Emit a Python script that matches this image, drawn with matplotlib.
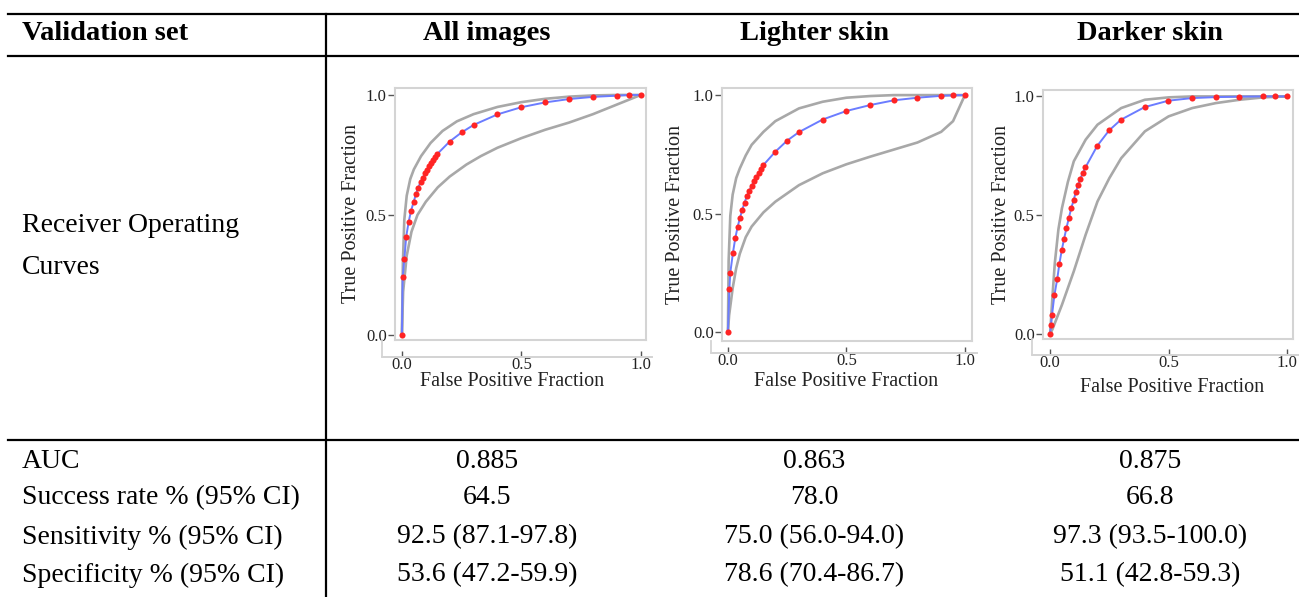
import numpy as np
import matplotlib.pyplot as plt
from matplotlib.lines import Line2D

plt.rcParams['font.family'] = ['Liberation Serif', 'DejaVu Serif']

W, H = 1299, 597

# --- table contents ---
HEADERS = ["Validation set", "All images", "Lighter skin", "Darker skin"]
ROW_LABELS = ["AUC", "Success rate % (95% CI)", "Sensitivity % (95% CI)", "Specificity % (95% CI)"]
ALL_VALUES = ["0.885", "64.5", "92.5 (87.1-97.8)", "53.6 (47.2-59.9)"]
LIGHT_VALUES = ["0.863", "78.0", "75.0 (56.0-94.0)", "78.6 (70.4-86.7)"]
DARK_VALUES = ["0.875", "66.8", "97.3 (93.5-100.0)", "51.1 (42.8-59.3)"]

# --- ROC curves ---
FPR_ALL = [0, 0.003, 0.01, 0.018, 0.028, 0.038, 0.049, 0.059, 0.068, 0.078, 0.088, 0.098,
           0.106, 0.114, 0.123, 0.131, 0.139, 0.148, 0.2, 0.25, 0.3, 0.4, 0.5, 0.6, 0.7,
           0.8, 0.9, 0.95, 1.0]
TPR_ALL = [0, 0.24, 0.315, 0.41, 0.47, 0.517, 0.554, 0.588, 0.614, 0.636, 0.656, 0.674,
           0.689, 0.704, 0.718, 0.731, 0.743, 0.754, 0.806, 0.844, 0.875, 0.919, 0.949,
           0.969, 0.983, 0.992, 0.997, 1.0, 1.0]
UP_ALL_X = [0, 0.004, 0.01, 0.02, 0.035, 0.05, 0.08, 0.12, 0.17, 0.23, 0.3, 0.4, 0.5, 0.6,
            0.7, 0.8, 0.9, 1.0]
UP_ALL_Y = [0, 0.3, 0.48, 0.58, 0.65, 0.69, 0.745, 0.8, 0.85, 0.89, 0.92, 0.95, 0.97, 0.984,
            0.993, 0.998, 1.0, 1.0]
LO_ALL_X = [0, 0.005, 0.02, 0.04, 0.065, 0.1, 0.15, 0.2, 0.27, 0.33, 0.4, 0.5, 0.6, 0.7,
            0.8, 0.9, 1.0]
LO_ALL_Y = [0, 0.18, 0.33, 0.43, 0.5, 0.555, 0.615, 0.66, 0.71, 0.745, 0.78, 0.82, 0.855,
            0.885, 0.92, 0.96, 1.0]

FPR_LIGHT = [0, 0.006, 0.01, 0.021, 0.031, 0.041, 0.051, 0.061, 0.07, 0.08, 0.09, 0.1, 0.11,
             0.12, 0.13, 0.14, 0.149, 0.2, 0.25, 0.3, 0.4, 0.5, 0.6, 0.7, 0.8, 0.9, 0.95, 1.0]
TPR_LIGHT = [0, 0.18, 0.25, 0.333, 0.396, 0.444, 0.483, 0.517, 0.546, 0.573, 0.596, 0.617,
             0.636, 0.653, 0.67, 0.688, 0.704, 0.761, 0.808, 0.844, 0.897, 0.933, 0.958,
             0.978, 0.989, 0.997, 0.999, 1.0]
UP_LIGHT_X = [0, 0.003, 0.01, 0.02, 0.035, 0.05, 0.075, 0.1, 0.15, 0.2, 0.3, 0.4, 0.5, 0.6,
              0.7, 1.0]
UP_LIGHT_Y = [0, 0.3, 0.49, 0.58, 0.65, 0.69, 0.745, 0.79, 0.845, 0.89, 0.944, 0.972, 0.989,
              0.996, 1.0, 1.0]
LO_LIGHT_X = [0, 0.005, 0.02, 0.035, 0.05, 0.075, 0.1, 0.15, 0.2, 0.3, 0.4, 0.5, 0.6, 0.7,
              0.8, 0.9, 0.95, 1.0]
LO_LIGHT_Y = [0, 0.07, 0.185, 0.27, 0.33, 0.4, 0.445, 0.505, 0.55, 0.62, 0.67, 0.708, 0.74,
              0.77, 0.8, 0.845, 0.89, 1.0]

FPR_DARK = [0, 0.004, 0.008, 0.018, 0.03, 0.039, 0.049, 0.059, 0.069, 0.079, 0.089, 0.099,
            0.108, 0.118, 0.128, 0.138, 0.149, 0.199, 0.249, 0.299, 0.399, 0.499, 0.599,
            0.699, 0.799, 0.9, 0.95, 1.0]
TPR_DARK = [0, 0.04, 0.08, 0.163, 0.231, 0.295, 0.352, 0.401, 0.446, 0.488, 0.529, 0.562,
            0.596, 0.626, 0.654, 0.678, 0.701, 0.792, 0.857, 0.902, 0.955, 0.982, 0.993,
            0.997, 0.999, 1.0, 1.0, 1.0]
UP_DARK_X = [0, 0.005, 0.01, 0.02, 0.035, 0.05, 0.075, 0.1, 0.15, 0.2, 0.3, 0.4, 0.5, 0.6, 1.0]
UP_DARK_Y = [0, 0.08, 0.16, 0.3, 0.44, 0.53, 0.64, 0.727, 0.818, 0.881, 0.951, 0.986, 0.996,
             1.0, 1.0]
LO_DARK_X = [0, 0.01, 0.02, 0.05, 0.1, 0.15, 0.2, 0.25, 0.3, 0.4, 0.5, 0.6, 0.7, 0.8, 0.9, 1.0]
LO_DARK_Y = [0, 0.02, 0.046, 0.123, 0.264, 0.418, 0.558, 0.656, 0.74, 0.853, 0.916, 0.951,
             0.972, 0.986, 0.996, 1.0]

FRAME = "#d4d4d4"
GRAY = "#a8a8a8"
BLUE = "#6b7cff"
RED = "#ff2424"


def fx(px):
    return px / W


def fy(py):
    return 1 - py / H


def hline(fig, y, x0, x1):
    fig.add_artist(Line2D([fx(x0), fx(x1)], [fy(y), fy(y)], color="black", lw=1.6))


def vline(fig, x, y0, y1):
    fig.add_artist(Line2D([fx(x), fx(x)], [fy(y0), fy(y1)], color="black", lw=1.6))


def roc_panel(fig, box, xlim, ylim, fpr, tpr, up, lo, ylab_x, xlab_xy, outer):
    l, t, r, b = box
    ax = fig.add_axes([fx(l), fy(b), (r - l) / W, (b - t) / H])
    ax.plot(up[0], up[1], color=GRAY, lw=1.9, solid_capstyle="round", zorder=2)
    ax.plot(lo[0], lo[1], color=GRAY, lw=1.9, solid_capstyle="round", zorder=2)
    ax.plot(fpr, tpr, color=BLUE, lw=1.4, zorder=3)
    ax.plot(fpr, tpr, "o", color=RED, ms=4.4, mec="none", zorder=4)
    ax.set_xlim(xlim)
    ax.set_ylim(ylim)
    for s in ("top", "right", "left"):
        ax.spines[s].set_color(FRAME)
        ax.spines[s].set_linewidth(1.5)
    # bottom axis sits below the frame
    off = outer[1] - b
    ax.spines["bottom"].set_position(("outward", off * 0.72))
    ax.spines["bottom"].set_color(FRAME)
    ax.spines["bottom"].set_linewidth(1.3)
    ax.plot([0, 1], [0, 0], transform=ax.transAxes, color=FRAME, lw=1.5, clip_on=False)
    xo = (outer[0] - l) / (r - l)
    xr = (outer[2] - l) / (r - l)
    yo = -off / (b - t)
    ax.plot([xo, xo, xr], [0, yo, yo], transform=ax.transAxes, color=FRAME, lw=1.3,
            clip_on=False)
    ax.spines["bottom"].set_bounds(xlim[0] + (xlim[1] - xlim[0]) * xo,
                                   xlim[0] + (xlim[1] - xlim[0]) * xr)
    ax.set_xticks([0, 0.5, 1.0])
    ax.set_yticks([0, 0.5, 1.0])
    ax.set_xticklabels(["0.0", "0.5", "1.0"])
    ax.set_yticklabels(["0.0", "0.5", "1.0"])
    ax.tick_params(axis="y", direction="out", length=5, width=1, color="#555555",
                   pad=1, labelsize=12, labelcolor="#222222")
    ax.tick_params(axis="x", direction="in", length=4, width=1, color="#555555",
                   pad=0, labelsize=12, labelcolor="#222222")
    fig.text(fx(ylab_x), fy((t + b) / 2), "True Positive Fraction", rotation=90,
             ha="center", va="center", fontsize=14.5, color="#222222")
    fig.text(fx(xlab_xy[0]), fy(xlab_xy[1]), "False Positive Fraction",
             ha="center", va="center", fontsize=14.5, color="#222222")
    return ax


fig = plt.figure(figsize=(W / 100, H / 100), dpi=100)
fig.patch.set_facecolor("white")

# table rules
hline(fig, 14, 8, W)
hline(fig, 56, 8, W)
hline(fig, 440, 8, W)
vline(fig, 326, 14, H)

COL_X = [22, 487, 814, 1150]
FS = 20
FS_HEAD = 20.5

fig.text(fx(COL_X[0]), fy(34), HEADERS[0], ha="left", va="center", fontsize=FS_HEAD,
         fontweight="bold")
for cx, head in zip(COL_X[1:], HEADERS[1:]):
    fig.text(fx(cx), fy(34), head, ha="center", va="center", fontsize=FS_HEAD,
             fontweight="bold")

fig.text(fx(COL_X[0]), fy(225), "Receiver Operating", ha="left", va="center", fontsize=FS)
fig.text(fx(COL_X[0]), fy(267), "Curves", ha="left", va="center", fontsize=FS)

ROW_Y = [462, 498, 537, 575]
for ry, lab, a, li, d in zip(ROW_Y, ROW_LABELS, ALL_VALUES, LIGHT_VALUES, DARK_VALUES):
    fig.text(fx(COL_X[0]), fy(ry), lab, ha="left", va="center", fontsize=FS)
    for cx, v in zip(COL_X[1:], (a, li, d)):
        fig.text(fx(cx), fy(ry), v, ha="center", va="center", fontsize=FS)

roc_panel(fig, (395, 88, 646, 340), (-0.029, 1.022), (-0.021, 1.029),
          FPR_ALL, TPR_ALL, (UP_ALL_X, UP_ALL_Y), (LO_ALL_X, LO_ALL_Y),
          352, (512, 381), (382, 357, 652))
roc_panel(fig, (722, 88, 972, 341), (-0.025, 1.03), (-0.038, 1.03),
          FPR_LIGHT, TPR_LIGHT, (UP_LIGHT_X, UP_LIGHT_Y), (LO_LIGHT_X, LO_LIGHT_Y),
          676, (846, 381), (711, 353, 977))
roc_panel(fig, (1043, 90, 1293, 339), (-0.03, 1.025), (-0.021, 1.027),
          FPR_DARK, TPR_DARK, (UP_DARK_X, UP_DARK_Y), (LO_DARK_X, LO_DARK_Y),
          1001, (1172, 387), (1032, 355, 1299))

fig.savefig("out.png", dpi=100, facecolor="white")
